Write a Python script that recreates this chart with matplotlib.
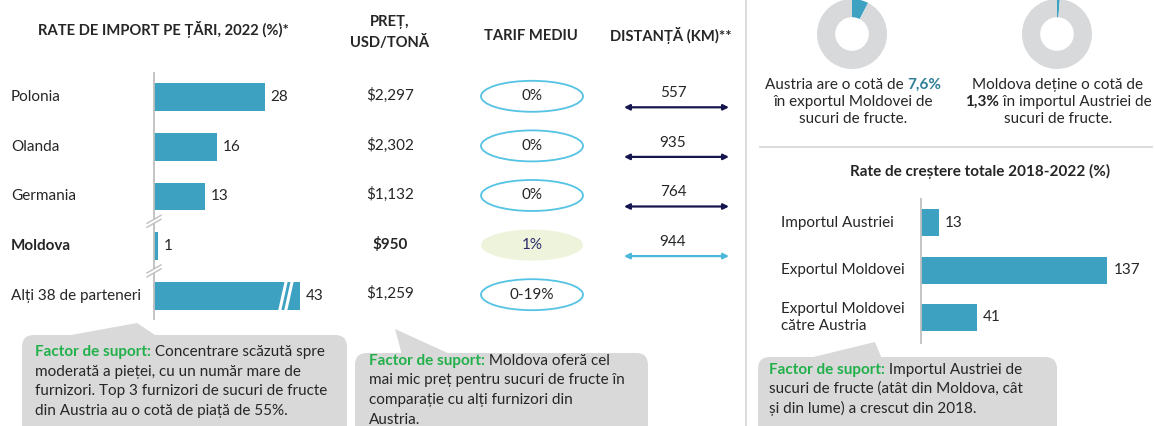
import matplotlib.pyplot as plt
from matplotlib.patches import Ellipse, FancyBboxPatch, Polygon

plt.rcParams['font.family'] = ['Lato', 'DejaVu Sans']

# ---- data ----
countries = ['Polonia', 'Olanda', 'Germania', 'Moldova', 'Alți 38 de parteneri']
import_share = [28, 16, 13, 1, 43]
prices = ['$2,297', '$2,302', '$1,132', '$950', '$1,259']
tariffs = ['0%', '0%', '0%', '1%', '0-19%']
distances = [557, 935, 764, 944]
growth_labels = ['Importul Austriei', 'Exportul Moldovei', 'Exportul Moldovei\ncătre Austria']
growth_values = [13, 137, 41]
donut_shares = [7.6, 1.3]
bar_cap = 37  # the "others" bar is drawn broken

TEAL = '#3DA2C2'
DARK = '#262626'
GREEN = '#22B04B'
GRAY = '#D9D9D9'
NAVY = '#16164F'
LIGHT = '#4BB8DA'
FS = 11

W, H = 1155, 426
fig = plt.figure(figsize=(W / 100, H / 100), dpi=100)

ov = fig.add_axes([0, 0, 1, 1], zorder=0)
ov.set_xlim(0, W)
ov.set_ylim(H, 0)
ov.axis('off')


def box(x0, y0, x1, y1):
    return [x0 / W, 1 - y1 / H, (x1 - x0) / W, (y1 - y0) / H]


def row_px(ax, r):
    return H - ax.transData.transform((0, r))[1]


def rich(x, y, parts, ha='left', size=FS):
    r = fig.canvas.get_renderer()
    texts = []
    for s, kw in parts:
        props = dict(color=DARK)
        props.update(kw)
        texts.append(ov.text(0, y, s, va='center', ha='left', fontsize=size, **props))
    widths = [t.get_window_extent(r).width for t in texts]
    x0 = x - sum(widths) / 2 if ha == 'center' else x
    for t, w in zip(texts, widths):
        t.set_x(x0)
        x0 += w


# ---- left bar chart ----
axl = fig.add_axes(box(154, 73, 354, 319), zorder=1)
axl.patch.set_alpha(0)
shown = [min(v, bar_cap) for v in import_share]
axl.barh(range(len(countries)), shown, height=0.56, color=TEAL)
axl.set_xlim(0, 200 / 3.95)
axl.set_ylim(4.47, -0.49)
for s in ['top', 'right', 'bottom']:
    axl.spines[s].set_visible(False)
axl.spines['left'].set_color('#BFBFBF')
axl.spines['left'].set_linewidth(1.3)
axl.set_xticks([])
axl.set_yticks([])
for i, (v, s) in enumerate(zip(import_share, shown)):
    axl.text(s + 1.4, i, str(v), va='center', ha='left', fontsize=FS, color=DARK)

rows = [row_px(axl, i) for i in range(len(countries))]
for i, c in enumerate(countries):
    ov.text(11, rows[i], c, va='center', ha='left', fontsize=FS, color=DARK,
            fontweight='bold' if c == 'Moldova' else 'normal')

# axis breaks
for r in [2.5, 3.5]:
    y = row_px(axl, r)
    axl.add_patch(Polygon([(147, y + 2), (161, y - 6), (161, y - 2), (147, y + 6)],
                          closed=True, fc='white', ec='none', transform=ov.transData,
                          clip_on=False, zorder=5))
    for dy in [0, 4]:
        axl.plot([147, 161], [y + 2 + dy, y - 6 + dy], color='#BFBFBF', lw=1,
                 transform=ov.transData, clip_on=False, zorder=6)
# bar break on "others"
yb = rows[4]
for dx in [0, 6]:
    axl.plot([279 + dx, 287 + dx], [yb + 18, yb - 18], color='white', lw=2.2,
             transform=ov.transData, clip_on=False, zorder=6)

# ---- headers ----
hdr = dict(fontsize=10.6, fontweight='bold', color=DARK, ha='center', va='center')
ov.text(163, 30, 'RATE DE IMPORT PE ȚĂRI, 2022 (%)*', **hdr)
ov.text(390, 22, 'PREȚ,', **hdr)
ov.text(390, 42, 'USD/TONĂ', **hdr)
ov.text(531, 36, 'TARIF MEDIU', **hdr)
ov.text(671, 36, 'DISTANȚĂ (KM)**', **hdr)

# ---- price, tariff, distance columns ----
for i, p in enumerate(prices):
    ov.text(390, rows[i] - 2, p, ha='center', va='center', fontsize=FS, color=DARK,
            fontweight='bold' if countries[i] == 'Moldova' else 'normal')

for i, t in enumerate(tariffs):
    y = rows[i] - 1
    if countries[i] == 'Moldova':
        ov.add_patch(Ellipse((532, y), 102, 31, fc='#EEF4DC', ec='none'))
        ov.text(532, y, t, ha='center', va='center', fontsize=FS, color='#2B2B6B')
    else:
        ov.add_patch(Ellipse((532, y), 102, 31, fc='none', ec='#55C3E3', lw=1.3))
        ov.text(532, y, t, ha='center', va='center', fontsize=FS, color=DARK)

for i, d in enumerate(distances):
    col = LIGHT if countries[i] == 'Moldova' else NAVY
    ov.text(673, rows[i] - 4, str(d), ha='center', va='center', fontsize=FS, color=DARK)
    ov.annotate('', xy=(729, rows[i] + 10), xytext=(624, rows[i] + 10),
                arrowprops=dict(arrowstyle='<|-|>', color=col, lw=1.6,
                                mutation_scale=8, shrinkA=0, shrinkB=0))

# ---- separators ----
ov.plot([746, 746], [0, H], color=GRAY, lw=1.3)
ov.plot([760, 1152], [147, 147], color=GRAY, lw=1.3)

# ---- donuts ----
for cx, share in zip([852, 1057], donut_shares):
    axd = fig.add_axes(box(cx - 35, 34 - 35, cx + 35, 34 + 35), zorder=1)
    axd.pie([share, 100 - share], colors=[TEAL, '#D7D9DB'], startangle=90,
            counterclock=False, radius=1, wedgeprops=dict(width=0.52, linewidth=0))
    axd.set_xlim(-1, 1)
    axd.set_ylim(-1, 1)
    axd.set_aspect('equal')
    axd.axis('off')

rich(853, 85, [('Austria are o cotă de ', {}),
               ('7,6%', dict(fontweight='bold', color='#2F7F96'))], ha='center')
rich(853, 102, [('în exportul Moldovei de', {})], ha='center')
rich(853, 119, [('sucuri de fructe.', {})], ha='center')
rich(1058, 85, [('Moldova deține o cotă de', {})], ha='center')
rich(1058, 102, [('1,3%', dict(fontweight='bold')),
                 (' în importul Austriei de', {})], ha='center')
rich(1058, 119, [('sucuri de fructe.', {})], ha='center')

ov.text(980, 171, 'Rate de creștere totale 2018-2022 (%)', ha='center', va='center',
        fontsize=11, fontweight='bold', color=DARK)

# ---- right bar chart ----
axr = fig.add_axes(box(921, 199, 1141, 343), zorder=1)
axr.patch.set_alpha(0)
axr.barh(range(len(growth_values)), growth_values, height=0.57, color=TEAL)
axr.set_xlim(0, 220 / 1.36)
axr.set_ylim(2.54, -0.5)
for s in ['top', 'right', 'bottom']:
    axr.spines[s].set_visible(False)
axr.spines['left'].set_color('#BFBFBF')
axr.spines['left'].set_linewidth(1.3)
axr.set_xticks([])
axr.set_yticks([])
for i, v in enumerate(growth_values):
    axr.text(v + 4.5, i, str(v), va='center', ha='left', fontsize=FS, color=DARK)
for i, lab in enumerate(growth_labels):
    ov.text(781, row_px(axr, i), lab, va='center', ha='left', fontsize=FS,
            color=DARK, linespacing=1.3)

# ---- callouts ----
def bubble(x0, y0, w, tip):
    ov.add_patch(FancyBboxPatch((x0, y0), w, 120, boxstyle='round,pad=0,rounding_size=12',
                                fc=GRAY, ec='none'))
    ov.add_patch(Polygon(tip, closed=True, fc=GRAY, ec='none'))


bubble(22, 335, 325, [(60, 337), (137, 323), (158, 337)])
bubble(355, 353, 293, [(402, 355), (395, 329), (452, 355)])
bubble(758, 357, 299, [(805, 359), (875, 342), (882, 359)])

lead = ('Factor de suport:', dict(fontweight='bold', color=GREEN))
rich(35, 352, [lead, (' Concentrare scăzută spre', {})])
rich(35, 372, [('moderată a pieței, cu un număr mare de', {})])
rich(35, 391, [('furnizori. Top 3 furnizori de sucuri de fructe', {})])
rich(35, 411, [('din Austria au o cotă de piață de 55%.', {})])

rich(369, 361, [lead, (' Moldova oferă cel', {})])
rich(369, 380, [('mai mic preț pentru sucuri de fructe în', {})])
rich(369, 400, [('comparație cu alți furnizori din', {})])
rich(369, 420, [('Austria.', {})])

rich(769, 370, [lead, (' Importul Austriei de', {})])
rich(769, 389, [('sucuri de fructe (atât din Moldova, cât', {})])
rich(769, 408, [('și din lume) a crescut din 2018.', {})])

fig.savefig('out.png', dpi=100)
